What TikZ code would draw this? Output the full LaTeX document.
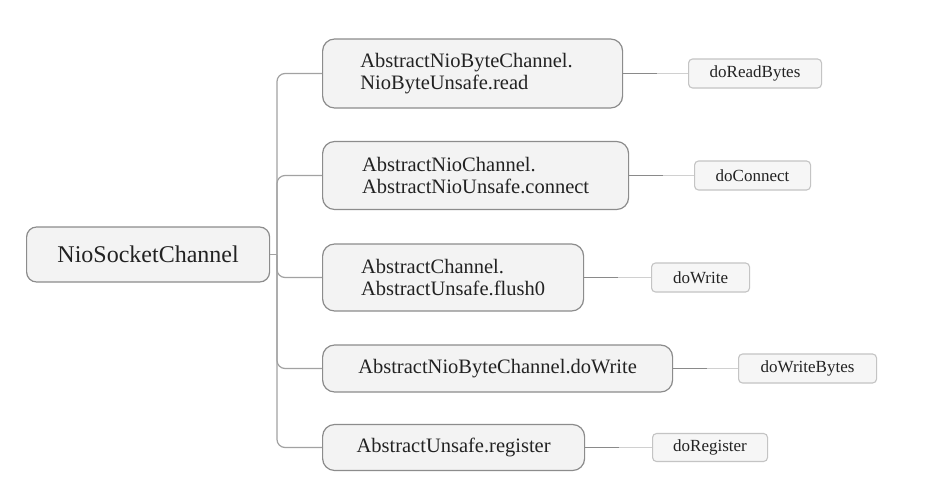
\documentclass[tikz,border=0pt]{standalone}
\usepackage{fontspec}
\setmainfont{Liberation Serif}
\definecolor{boxfill}{HTML}{F3F3F3}
\definecolor{boxline}{HTML}{8C8C8C}
\definecolor{leafline}{HTML}{C4C4C4}
\definecolor{leaffill}{HTML}{F6F6F6}
\definecolor{trunkcol}{HTML}{A2A2A2}
\definecolor{darkcon}{HTML}{8A8A8A}
\definecolor{lightcon}{HTML}{D0D0D0}
\definecolor{txt}{HTML}{222222}
\begin{document}
\begin{tikzpicture}[x=1pt,y=-1pt,
  rootbox/.style={draw=boxline,fill=boxfill,line width=1.2pt,rounded corners=10pt,anchor=west,inner sep=0pt,text=txt,font=\fontsize{24}{26}\selectfont},
  branchbox/.style={draw=boxline,fill=boxfill,line width=1.2pt,rounded corners=12pt,anchor=west,inner sep=0pt,align=left,text=txt,font=\fontsize{20.5}{22}\selectfont},
  leafbox/.style={draw=leafline,fill=leaffill,line width=1.1pt,rounded corners=4pt,anchor=west,inner sep=0pt,text=txt,font=\fontsize{17}{19}\selectfont},
  trunk/.style={draw=trunkcol,line width=1.2pt,rounded corners=8pt},
  darkseg/.style={draw=darkcon,line width=1.2pt},
  lightseg/.style={draw=lightcon,line width=1.2pt}]
\useasboundingbox (0,0) rectangle (925,480);
\fill[white] (0,0) rectangle (925,480);

\node[rootbox,minimum width=243pt,minimum height=55pt] (root) at (26,254.5) {NioSocketChannel};

\node[branchbox,minimum width=300pt,minimum height=69pt] (b1) at (322,73.5) {AbstractNioByteChannel.\hspace*{12pt}\\NioByteUnsafe.read};
\node[branchbox,minimum width=306pt,minimum height=68pt] (b2) at (322,175.5) {AbstractNioChannel.\\AbstractNioUnsafe.connect};
\node[branchbox,minimum width=261pt,minimum height=67pt] (b3) at (322,277.5) {AbstractChannel.\\AbstractUnsafe.flush0};
\node[branchbox,minimum width=350pt,minimum height=47pt] (b4) at (322,368.5) {AbstractNioByteChannel.doWrite};
\node[branchbox,minimum width=262pt,minimum height=46pt] (b5) at (322,447.5) {AbstractUnsafe.register};

\node[leafbox,minimum width=133pt,minimum height=29pt] (l1) at (688,73.5) {doReadBytes};
\node[leafbox,minimum width=116pt,minimum height=29pt] (l2) at (694,175.5) {doConnect};
\node[leafbox,minimum width=98pt,minimum height=29pt] (l3) at (651,277.5) {doWrite};
\node[leafbox,minimum width=138pt,minimum height=29pt] (l4) at (738,368.5) {doWriteBytes};
\node[leafbox,minimum width=115pt,minimum height=28pt] (l5) at (652,447.5) {doRegister};

\coordinate (hub) at (277,254.5);
\draw[trunk] (root.east) -- (hub);
\foreach \b in {b1,b2,b3,b4,b5}{
  \draw[trunk] (hub) |- (\b.west);
}

\foreach \b/\l in {b1/l1,b2/l2,b3/l3,b4/l4,b5/l5}{
  \draw[darkseg] (\b.east) -- ++(34,0) coordinate (m\l);
  \draw[lightseg] (m\l) -- (\l.west);
}
\end{tikzpicture}
\end{document}
